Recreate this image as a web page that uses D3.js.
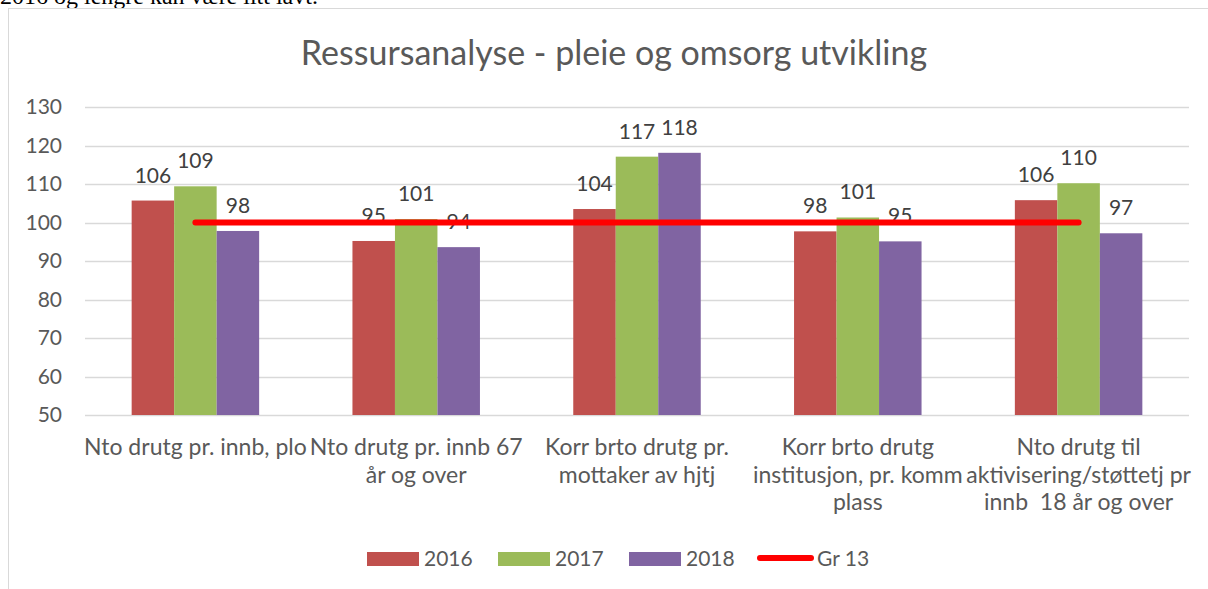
<!DOCTYPE html>
<html>
<head>
<meta charset="utf-8">
<script src="https://cdnjs.cloudflare.com/ajax/libs/d3/7.8.5/d3.min.js"></script>
<style>
  body { margin: 0; background: #fff; }
  svg { display: block; }
  text { font-family: Lato, "Open Sans", sans-serif; fill: #595959; white-space: pre; }
</style>
</head>
<body>
<svg id="chart"></svg>
<script>
// chart data
const categories = [
  ["Nto drutg pr. innb, plo"],
  ["Nto drutg pr. innb 67", "år og over"],
  ["Korr brto drutg pr.", "mottaker av hjtj"],
  ["Korr brto drutg", "institusjon, pr. komm", "plass"],
  ["Nto drutg til", "aktivisering/støttetj pr", "innb  18 år og over"]
];
const seriesNames = ["2016", "2017", "2018"];
const values2016 = [105.7, 95.2, 103.5, 97.7, 105.8];
const values2017 = [109.4, 100.9, 117.1, 101.3, 110.2];
const values2018 = [97.8, 93.6, 118.1, 95.1, 97.2];
const gr13 = [100, 100, 100, 100, 100];
const lineName = "Gr 13";
const yTicks = [50, 60, 70, 80, 90, 100, 110, 120, 130];
const title = "Ressursanalyse - pleie og omsorg utvikling";

const colors = ["#C0504D", "#9BBB59", "#8064A2"];
const lineColor = "#FF0000";

const W = 1208, H = 589;
const plot = {left: 85, right: 1189, top: 107, bottom: 415};

const svg = d3.select("#chart").attr("width", W).attr("height", H);

// cropped document text above the chart
svg.append("text")
  .attr("x", 0)
  .attr("y", 4)
  .style("font-family", "'Liberation Serif', serif")
  .style("font-size", "24px")
  .style("fill", "#000")
  .text("2016 og lengre kan være litt lavt.");

// chart frame (runs off the right and bottom of the picture)
svg.append("rect")
  .attr("x", 8.5).attr("y", 8.5)
  .attr("width", 1220).attr("height", 600)
  .attr("fill", "#fff")
  .attr("stroke", "#d9d9d9");

svg.append("text")
  .attr("x", 614)
  .attr("y", 65)
  .attr("text-anchor", "middle")
  .style("font-size", "34px")
  .text(title);

const idx = d3.range(categories.length);

const x = d3.scaleBand()
  .domain(idx)
  .range([plot.left, plot.right])
  .paddingInner(0.4226)
  .paddingOuter(0.2113);

const xs = d3.scaleBand()
  .domain(seriesNames)
  .range([0, x.bandwidth()]);

const y = d3.scaleLinear()
  .domain([50, 130])
  .range([plot.bottom, plot.top]);

// gridlines
svg.append("g")
  .selectAll("line")
  .data(yTicks)
  .join("line")
  .attr("x1", plot.left)
  .attr("x2", plot.right)
  .attr("y1", d => Math.round(y(d)) + 0.5)
  .attr("y2", d => Math.round(y(d)) + 0.5)
  .attr("stroke", "#d9d9d9")
  .attr("stroke-width", 1.3);

// y axis labels
const yAxis = svg.append("g")
  .attr("transform", `translate(${plot.left},0)`)
  .call(d3.axisLeft(y).tickValues(yTicks).tickSize(0).tickPadding(23));
yAxis.select(".domain").remove();
yAxis.selectAll("text")
  .style("font-family", "Lato, sans-serif")
  .style("font-size", "21px")
  .style("fill", "#595959");

// bars
const seriesData = [values2016, values2017, values2018];
const rows = [];
seriesData.forEach((vals, s) => {
  vals.forEach((v, i) => rows.push({i, s, name: seriesNames[s], v}));
});

svg.append("g")
  .selectAll("rect")
  .data(rows)
  .join("rect")
  .attr("x", d => x(d.i) + xs(d.name))
  .attr("y", d => y(d.v))
  .attr("width", xs.bandwidth())
  .attr("height", d => y(50) - y(d.v))
  .attr("fill", d => colors[d.s]);

// value labels
svg.append("g")
  .selectAll("text")
  .data(rows)
  .join("text")
  .attr("x", d => x(d.i) + xs(d.name) + xs.bandwidth() / 2)
  .attr("y", d => y(d.v) - 18)
  .attr("text-anchor", "middle")
  .style("font-size", "21px")
  .style("fill", "#404040")
  .text(d => Math.round(d.v));

// Gr 13 line
const line = d3.line()
  .x((d, i) => x(i) + x.bandwidth() / 2)
  .y(d => y(d));

svg.append("path")
  .datum(gr13)
  .attr("d", line)
  .attr("fill", "none")
  .attr("stroke", lineColor)
  .attr("stroke-width", 6)
  .attr("stroke-linecap", "round");

// category labels
const catG = svg.append("g");
categories.forEach((lines, i) => {
  const t = catG.append("text")
    .attr("text-anchor", "middle")
    .style("font-size", "23px");
  lines.forEach((ln, k) => {
    t.append("tspan")
      .attr("x", x(i) + x.bandwidth() / 2)
      .attr("y", 455 + k * 27.5)
      .text(ln);
  });
});

// legend
const legend = svg.append("g");
seriesNames.forEach((name, s) => {
  const lx = 367 + s * 131;
  legend.append("rect")
    .attr("x", lx).attr("y", 552)
    .attr("width", 52).attr("height", 14)
    .attr("fill", colors[s]);
  legend.append("text")
    .attr("x", lx + 57).attr("y", 566)
    .style("font-size", "21px")
    .text(name);
});
legend.append("line")
  .attr("x1", 760).attr("x2", 811)
  .attr("y1", 558).attr("y2", 558)
  .attr("stroke", lineColor)
  .attr("stroke-width", 6)
  .attr("stroke-linecap", "round");
legend.append("text")
  .attr("x", 817).attr("y", 566)
  .style("font-size", "21px")
  .text(lineName);
</script>
</body>
</html>
